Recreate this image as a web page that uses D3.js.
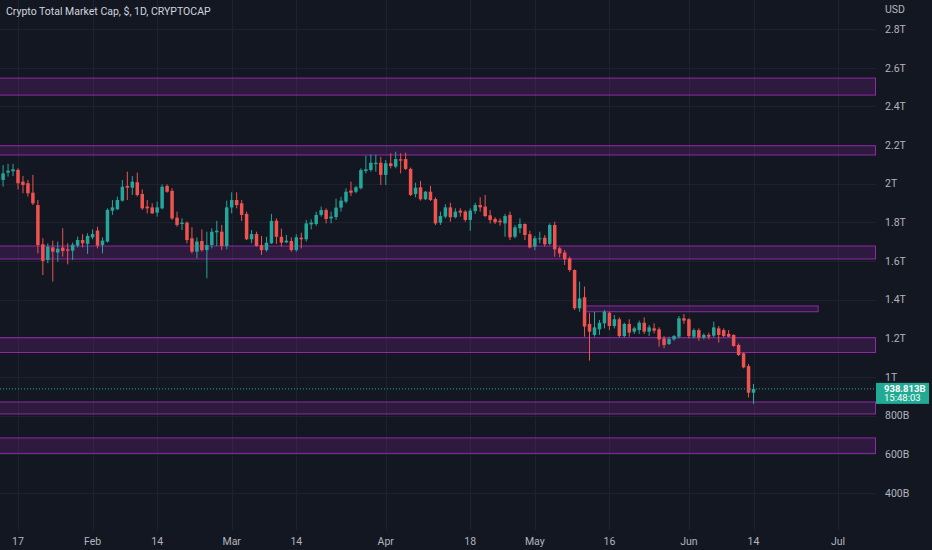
<!DOCTYPE html>
<html>
<head>
<meta charset="utf-8">
<script src="https://cdn.jsdelivr.net/npm/d3@7"></script>
<style>
  html, body { margin: 0; padding: 0; background: #131722; }
  #chart { width: 932px; height: 550px; }
</style>
</head>
<body>
<div id="chart"></div>
<script>
// Crypto Total Market Cap daily candles (values in trillions USD)

const firstDay = "2022-01-13";
const lastDay = "2022-06-14";

const open = [
  2.090, 2.020, 2.058, 2.065, 2.072, 2.011, 2.003, 1.954, 1.890, 1.687, 1.606, 1.671, 1.644, 1.670, 1.661, 1.654, 1.680, 1.709, 1.689,
  1.723, 1.758, 1.683, 1.701, 1.861, 1.868, 1.913, 1.989, 1.980, 2.008, 1.947, 1.882, 1.878, 1.851, 1.873, 1.989, 1.963, 1.825, 1.792, 1.799, 1.718, 1.649, 1.704, 1.657, 1.683, 1.749, 1.752, 1.678,
  1.878, 1.916, 1.899, 1.844, 1.713, 1.740, 1.683, 1.657, 1.692, 1.809, 1.726, 1.697, 1.704, 1.657, 1.721, 1.713, 1.790, 1.792, 1.839, 1.864, 1.821, 1.828, 1.877, 1.908, 1.965, 1.959, 1.977, 2.066, 2.071, 2.102, 2.109,
  2.046, 2.106, 2.089, 2.127, 2.128, 2.077, 1.947, 1.982, 1.920, 1.959, 1.921, 1.799, 1.830, 1.878, 1.827, 1.861, 1.856, 1.813, 1.859, 1.890, 1.882, 1.837, 1.818, 1.809, 1.795, 1.839, 1.726, 1.770, 1.792, 1.739,
  1.675, 1.713, 1.721, 1.689, 1.787, 1.666, 1.644, 1.614, 1.554, 1.356, 1.413, 1.275, 1.218, 1.247, 1.278, 1.333, 1.264, 1.299, 1.212, 1.275, 1.235, 1.243, 1.281, 1.235, 1.252, 1.247, 1.200, 1.171, 1.195, 1.209, 1.304,
  1.299, 1.209, 1.243, 1.204, 1.218, 1.214, 1.252, 1.243, 1.223, 1.218, 1.166, 1.123, 1.057, 0.919
];
const high = [
  2.130, 2.097, 2.103, 2.103, 2.080, 2.040, 2.020, 2.046, 1.916, 1.718, 1.692, 1.706, 1.701, 1.770, 1.692, 1.696, 1.727, 1.739, 1.744,
  1.764, 1.778, 1.723, 1.873, 1.916, 1.934, 2.020, 2.063, 2.040, 2.058, 1.971, 1.916, 1.899, 1.908, 1.997, 1.997, 1.977, 1.856, 1.821, 1.805, 1.775, 1.723, 1.764, 1.752, 1.770, 1.808, 1.787, 1.913,
  1.956, 1.956, 1.916, 1.856, 1.761, 1.752, 1.730, 1.726, 1.844, 1.821, 1.768, 1.735, 1.723, 1.739, 1.747, 1.813, 1.816, 1.856, 1.882, 1.873, 1.856, 1.923, 1.933, 1.977, 2.011, 1.989, 2.080, 2.145, 2.152, 2.150, 2.140,
  2.123, 2.158, 2.166, 2.158, 2.161, 2.084, 2.006, 2.015, 1.963, 1.989, 1.930, 1.856, 1.894, 1.902, 1.873, 1.873, 1.864, 1.873, 1.902, 1.930, 1.942, 1.864, 1.827, 1.821, 1.844, 1.856, 1.787, 1.821, 1.795, 1.757,
  1.730, 1.752, 1.735, 1.795, 1.804, 1.675, 1.657, 1.623, 1.557, 1.494, 1.468, 1.333, 1.338, 1.295, 1.347, 1.338, 1.321, 1.309, 1.281, 1.299, 1.261, 1.292, 1.309, 1.269, 1.278, 1.257, 1.212, 1.209, 1.218, 1.316, 1.326,
  1.304, 1.252, 1.252, 1.226, 1.230, 1.287, 1.264, 1.252, 1.243, 1.221, 1.174, 1.126, 1.068, 0.964
];
const low = [
  2.020, 1.985, 2.037, 2.040, 1.971, 1.951, 1.934, 1.890, 1.640, 1.528, 1.589, 1.494, 1.597, 1.623, 1.583, 1.606, 1.670, 1.671, 1.637,
  1.713, 1.666, 1.640, 1.696, 1.839, 1.865, 1.908, 1.916, 1.942, 1.934, 1.865, 1.847, 1.844, 1.830, 1.868, 1.954, 1.813, 1.778, 1.761, 1.692, 1.640, 1.614, 1.649, 1.511, 1.666, 1.678, 1.657, 1.661,
  1.847, 1.873, 1.808, 1.709, 1.692, 1.675, 1.632, 1.649, 1.689, 1.689, 1.675, 1.692, 1.649, 1.649, 1.666, 1.701, 1.764, 1.782, 1.830, 1.795, 1.795, 1.813, 1.856, 1.899, 1.937, 1.951, 1.971, 2.054, 2.063, 2.063, 1.994,
  1.994, 2.080, 2.080, 2.054, 2.071, 1.937, 1.930, 1.913, 1.916, 1.911, 1.787, 1.787, 1.821, 1.804, 1.821, 1.830, 1.804, 1.757, 1.844, 1.856, 1.827, 1.795, 1.792, 1.783, 1.726, 1.709, 1.718, 1.744, 1.709, 1.666,
  1.657, 1.692, 1.675, 1.682, 1.623, 1.620, 1.580, 1.545, 1.347, 1.338, 1.209, 1.085, 1.209, 1.218, 1.252, 1.243, 1.252, 1.206, 1.206, 1.209, 1.223, 1.223, 1.223, 1.212, 1.226, 1.157, 1.149, 1.166, 1.188, 1.200, 1.275,
  1.200, 1.200, 1.188, 1.195, 1.195, 1.206, 1.178, 1.206, 1.206, 1.157, 1.109, 1.045, 0.895, 0.861
];
const close = [
  2.030, 2.054, 2.068, 2.075, 2.003, 1.994, 1.951, 1.899, 1.683, 1.601, 1.675, 1.649, 1.664, 1.652, 1.654, 1.685, 1.709, 1.692, 1.730,
  1.740, 1.680, 1.706, 1.865, 1.878, 1.916, 1.985, 1.980, 2.011, 1.942, 1.873, 1.873, 1.847, 1.878, 1.985, 1.959, 1.821, 1.787, 1.799, 1.709, 1.649, 1.701, 1.657, 1.683, 1.752, 1.757, 1.678, 1.878,
  1.916, 1.890, 1.839, 1.713, 1.740, 1.678, 1.657, 1.695, 1.808, 1.726, 1.695, 1.706, 1.657, 1.723, 1.713, 1.795, 1.799, 1.839, 1.864, 1.818, 1.830, 1.877, 1.913, 1.959, 1.954, 1.982, 2.071, 2.075, 2.109, 2.109, 2.046,
  2.106, 2.092, 2.128, 2.120, 2.077, 1.942, 1.980, 1.920, 1.959, 1.916, 1.795, 1.833, 1.878, 1.827, 1.856, 1.851, 1.813, 1.861, 1.890, 1.878, 1.833, 1.813, 1.801, 1.801, 1.833, 1.723, 1.775, 1.792, 1.735, 1.671,
  1.718, 1.718, 1.687, 1.787, 1.661, 1.640, 1.609, 1.554, 1.356, 1.407, 1.261, 1.235, 1.257, 1.281, 1.338, 1.264, 1.299, 1.212, 1.275, 1.230, 1.252, 1.281, 1.235, 1.257, 1.240, 1.195, 1.166, 1.197, 1.212, 1.304, 1.292,
  1.212, 1.243, 1.204, 1.218, 1.209, 1.257, 1.218, 1.212, 1.209, 1.161, 1.114, 1.050, 0.919, 0.9388
];

// Horizontal zones drawn on the chart (trillions), with their date span
const zoneTop    = [2.547, 2.197, 1.678, 1.368, 1.204, 0.871, 0.685];
const zoneBottom = [2.459, 2.149, 1.611, 1.338, 1.127, 0.809, 0.605];
const zoneStart  = ["2021-12-01", "2021-12-01", "2021-12-01", "2022-05-11", "2021-12-01", "2021-12-01", "2021-12-01"];
const zoneEnd    = ["2022-09-01", "2022-09-01", "2022-09-01", "2022-06-27", "2022-09-01", "2022-09-01", "2022-09-01"];

// Axis ticks
const priceTicks = [0.4, 0.6, 0.8, 1.0, 1.2, 1.4, 1.6, 1.8, 2.0, 2.2, 2.4, 2.6, 2.8];
const dateTicks = ["2022-01-17", "2022-02-01", "2022-02-14", "2022-03-01", "2022-03-14", "2022-04-01",
  "2022-04-18", "2022-05-01", "2022-05-16", "2022-06-01", "2022-06-14", "2022-07-01"];
const dateTickLabels = ["17", "Feb", "14", "Mar", "14", "Apr", "18", "May", "16", "Jun", "14", "Jul"];

const lastPrice = 0.9388;
const lastPriceLabel = "938.813B";
const countdownLabel = "15:48:03";
const title = "Crypto Total Market Cap, $, 1D, CRYPTOCAP";

function createChart() {
  const width = 932;
  const height = 550;
  const plotRight = 876;
  const plotBottom = 530;
  const parse = d3.utcParse("%Y-%m-%d");

  const days = d3.utcDay.range(parse(firstDay), d3.utcDay.offset(parse(lastDay), 1));
  const candles = days.map((d, i) => ({ date: d, o: open[i], h: high[i], l: low[i], c: close[i] }));

  // Scales
  const x = d3.scaleUtc()
    .domain([parse("2022-01-17"), parse("2022-07-01")])
    .range([18, 838]);
  const y = d3.scaleLinear()
    .domain([0.4, 2.8])
    .range([493, 29.2]);

  const fmtPrice = v => v >= 1 ? d3.format("~g")(v) + "T" : Math.round(v * 1000) + "B";

  const svg = d3.select("#chart")
    .append("svg")
    .attr("width", width)
    .attr("height", height)
    .attr("viewBox", [0, 0, width, height])
    .style("font-family", "Roboto, 'Noto Sans', sans-serif");

  svg.append("rect")
    .attr("width", width)
    .attr("height", height)
    .attr("fill", "#131722");

  svg.append("clipPath")
    .attr("id", "plot-clip")
    .append("rect")
    .attr("width", plotRight)
    .attr("height", plotBottom);

  const plot = svg.append("g").attr("clip-path", "url(#plot-clip)");

  // Grid
  plot.append("g")
    .selectAll("line")
    .data(priceTicks)
    .join("line")
    .attr("x1", 0)
    .attr("x2", plotRight)
    .attr("y1", d => Math.round(y(d)) + 0.5)
    .attr("y2", d => Math.round(y(d)) + 0.5)
    .attr("stroke", "#1e222d");

  plot.append("g")
    .selectAll("line")
    .data(dateTicks)
    .join("line")
    .attr("x1", d => Math.round(x(parse(d))) + 0.5)
    .attr("x2", d => Math.round(x(parse(d))) + 0.5)
    .attr("y1", 0)
    .attr("y2", plotBottom)
    .attr("stroke", "#1e222d");

  // Zones
  const zones = zoneTop.map((t, i) => ({ top: t, bottom: zoneBottom[i], start: parse(zoneStart[i]), end: parse(zoneEnd[i]) }));
  plot.append("g")
    .selectAll("rect")
    .data(zones)
    .join("rect")
    .attr("x", d => x(d.start))
    .attr("width", d => Math.min(x(d.end), plotRight - 0.5) - x(d.start))
    .attr("y", d => y(d.top))
    .attr("height", d => y(d.bottom) - y(d.top))
    .attr("fill", "rgba(156, 39, 176, 0.2)")
    .attr("stroke", "#8e2aa6")
    .attr("stroke-width", 1);

  // Candles
  const bodyW = 3.5;
  const candle = plot.append("g")
    .selectAll("g")
    .data(candles)
    .join("g")
    .attr("fill", d => d.c >= d.o ? "#26a69a" : "#ef5350")
    .attr("stroke", d => d.c >= d.o ? "#26a69a" : "#ef5350");

  candle.append("line")
    .attr("x1", d => x(d.date))
    .attr("x2", d => x(d.date))
    .attr("y1", d => y(d.h))
    .attr("y2", d => y(d.l))
    .attr("stroke-width", 1);

  candle.append("rect")
    .attr("x", d => x(d.date) - bodyW / 2)
    .attr("width", bodyW)
    .attr("y", d => y(Math.max(d.o, d.c)))
    .attr("height", d => Math.max(1, Math.abs(y(d.o) - y(d.c))))
    .attr("stroke", "none");

  // Last price line
  plot.append("line")
    .attr("x1", 0)
    .attr("x2", plotRight)
    .attr("y1", y(lastPrice))
    .attr("y2", y(lastPrice))
    .attr("stroke", "#26a69a")
    .attr("stroke-dasharray", "1,2");

  // Price axis labels
  svg.append("text")
    .attr("x", 885)
    .attr("y", 9)
    .attr("dy", "0.35em")
    .attr("fill", "#b2b5be")
    .style("font-size", "10.5px")
    .text("USD");

  svg.append("g")
    .selectAll("text")
    .data(priceTicks)
    .join("text")
    .attr("x", 885)
    .attr("y", d => y(d))
    .attr("dy", "0.35em")
    .attr("fill", "#b2b5be")
    .style("font-size", "10.5px")
    .text(fmtPrice);

  // Last price tag
  const tagY = y(lastPrice);
  svg.append("rect")
    .attr("x", plotRight)
    .attr("y", tagY - 6)
    .attr("width", 53)
    .attr("height", 21)
    .attr("fill", "#22ab94");

  svg.append("text")
    .attr("x", 884)
    .attr("y", tagY + 3)
    .attr("fill", "#ffffff")
    .style("font-size", "9.5px")
    .style("font-weight", "700")
    .text(lastPriceLabel);

  svg.append("text")
    .attr("x", 884)
    .attr("y", tagY + 12.5)
    .attr("fill", "#ffffff")
    .style("font-size", "9.5px")
    .text(countdownLabel);

  // Time axis labels
  svg.append("g")
    .selectAll("text")
    .data(dateTicks)
    .join("text")
    .attr("x", d => x(parse(d)))
    .attr("y", 541)
    .attr("dy", "0.35em")
    .attr("text-anchor", "middle")
    .attr("fill", "#b2b5be")
    .style("font-size", "10.5px")
    .text((d, i) => dateTickLabels[i]);

  // Title
  svg.append("text")
    .attr("x", 6)
    .attr("y", 11)
    .attr("dy", "0.35em")
    .attr("fill", "#d1d4dc")
    .style("font-size", "10.5px")
    .text(title);
}

if (document.readyState === 'loading') {
  document.addEventListener('DOMContentLoaded', createChart);
} else {
  createChart();
}
</script>
</body>
</html>
